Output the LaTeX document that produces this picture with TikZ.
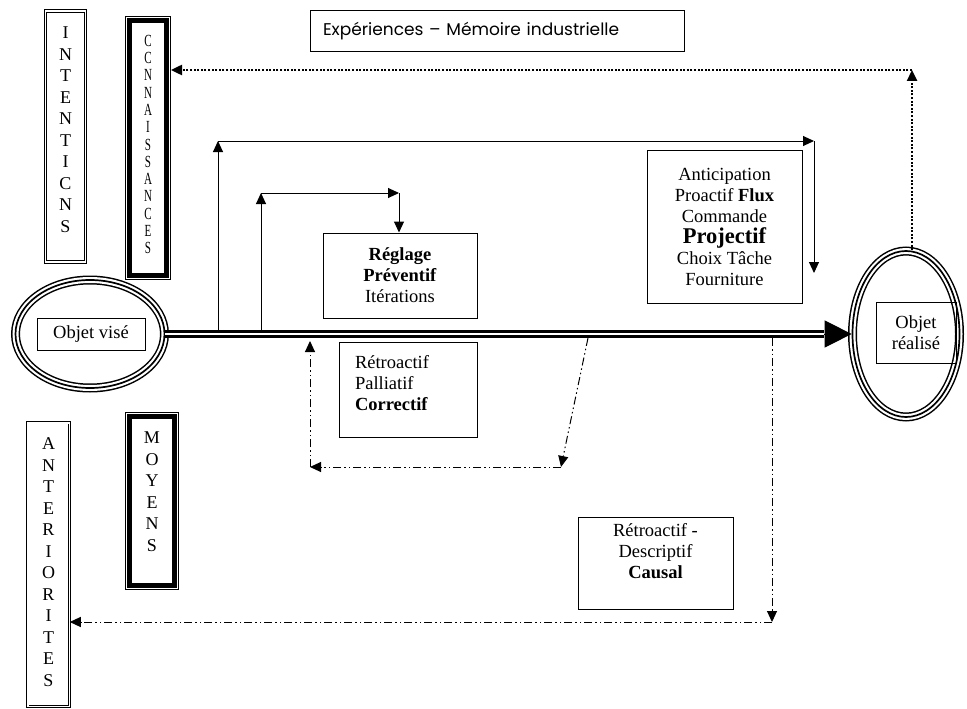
\documentclass[tikz,border=0pt]{standalone}
\usepackage{fontspec}
\setmainfont{Liberation Serif}
\newfontfamily\gothic{Poppins}
\usetikzlibrary{arrows.meta,shapes.geometric}

\begin{document}
\begin{tikzpicture}[x=1pt,y=-1pt,>={Triangle[length=11pt,width=10pt]},line width=1pt,
	box/.style={draw,line width=1pt,inner sep=0pt,font=\fontsize{18.5}{21}\selectfont,align=center},
	dbox/.style={draw,line width=0.9pt,double,double distance=1.6pt,inner sep=0pt,font=\fontsize{18}{21.5}\selectfont},
	hbox/.style={draw,line width=1pt,inner sep=0pt,font=\fontsize{18}{21.5}\selectfont,
		path picture={\draw[line width=4.6pt] ([xshift=3.8pt,yshift=3.8pt]path picture bounding box.south west) rectangle ([xshift=-3.8pt,yshift=-3.8pt]path picture bounding box.north east);}},
	oval/.style={ellipse,draw,line width=1.7pt,inner sep=0pt,preaction={draw,line width=9pt},preaction={draw,white,line width=6pt}},
	dashdot/.style={line width=1pt,dash pattern=on 8pt off 3pt on 1.5pt off 3pt on 1.5pt off 3pt},
	dots/.style={line width=2.4pt,dash pattern=on 2pt off 1.6pt}]
	\useasboundingbox (0,0) rectangle (967,709);
	% columns on the left
	\node[dbox,minimum width=40,minimum height=251] (intent) at (65.5,136.5) {\parbox[c][219pt][t]{20pt}{\centering I\\N\\T\\E\\N\\T\\I\\C\\N\\S}};
	\node[hbox,minimum width=45,minimum height=263] (conn) at (148,148) {\fontsize{17}{17.3}\selectfont\scalebox{0.65}[1]{\parbox[c][226pt][t]{20pt}{\centering C\\C\\N\\N\\A\\I\\S\\S\\A\\N\\C\\E\\S}}};
	\node[dbox,minimum width=41.6,minimum height=283.6] (ant) at (48.5,564.5) {\parbox[c][253pt][t]{20pt}{\centering A\\N\\T\\E\\R\\I\\O\\R\\I\\T\\E\\S}};
	\node[hbox,minimum width=53,minimum height=177] (moy) at (152,501) {\parbox[c][138pt][t]{20pt}{\centering M\\O\\Y\\E\\N\\S}};
	% objects
	\node[oval,minimum width=149,minimum height=108] (vise) at (90,334) {};
	\node[box,minimum width=108,minimum height=32] (visetxt) at (91,334) {Objet visé};
	\node[oval,minimum width=107,minimum height=166] (real) at (906,334) {};
	\node[box,minimum width=80,minimum height=61] (realtxt) at (916,333) {Objet\\réalisé};
	% boxes
	\node[box,font=\gothic\fontsize{17}{20}\selectfont,minimum width=374,minimum height=41,text width=348,inner xsep=13pt,align=left] (exp) at (497,31.5) {Expériences – Mémoire industrielle};
	\node[box,minimum width=154,minimum height=85] (regl) at (400,275.5) {\textbf{Réglage}\\\textbf{Préventif}\\Itérations};
	\node[box,minimum width=155,minimum height=153] (anti) at (724.5,226.5) {Anticipation\\Proactif \textbf{Flux}\\Commande\\{\fontsize{22.5}{24}\selectfont\bfseries Projectif}\\Choix Tâche\\Fourniture};
	\node[box,minimum width=138,minimum height=95] (corr) at (408,389.5) {\parbox[c][69pt][t]{106pt}{\raggedright Rétroactif\\Palliatif\\\textbf{Correctif}}};
	\node[box,minimum width=155,minimum height=92] (caus) at (655.5,563) {\parbox[c][80pt][t]{140pt}{\centering Rétroactif -\\Descriptif\\\textbf{Causal}}};
	% main arrow
	\coordinate (m1) at (824,334);
	\draw[line width=3pt,double,double distance=2pt] (vise.east) -- (m1);
	\draw[-{Triangle[length=27pt,width=27pt]},line width=1pt] (m1) -- (real.west);
	% forward loops
	\coordinate (a1) at (218,330);
	\coordinate (a2) at (218,141);
	\coordinate (a3) at (814,141);
	\coordinate (a4) at (814,273);
	\draw[->] (a1) -- (a2);
	\draw[->] (a2) -- (a3);
	\draw[->] (a3) -- (a4);
	\coordinate (b1) at (261,330);
	\coordinate (b2) at (261,193);
	\coordinate (b3) at (399,193);
	\draw[->] (b1) -- (b2);
	\draw[->] (b2) -- (b3);
	\draw[->] (b3) -- (b3 |- regl.north);
	% feedback loops
	\coordinate (c1) at (588,338);
	\coordinate (c2) at (561,467);
	\coordinate (c3) at (310,467);
	\coordinate (c4) at (310,341);
	\draw[dashdot,->] (c1) -- (c2);
	\draw[dashdot,->] (c2) -- (c3);
	\draw[dashdot,->] (c3) -- (c4);
	\coordinate (d1) at (772,338);
	\coordinate (d2) at (772,622);
	\draw[dashdot,->] (d1) -- (d2);
	\draw[dashdot,->] (d2) -- (d2 -| ant.east);
	% memory
	\coordinate (e1) at (912,70);
	\draw[dots,->] (e1 |- real.north) -- (e1);
	\draw[dots,->] (e1) -- (e1 -| conn.east);
\end{tikzpicture}
\end{document}
